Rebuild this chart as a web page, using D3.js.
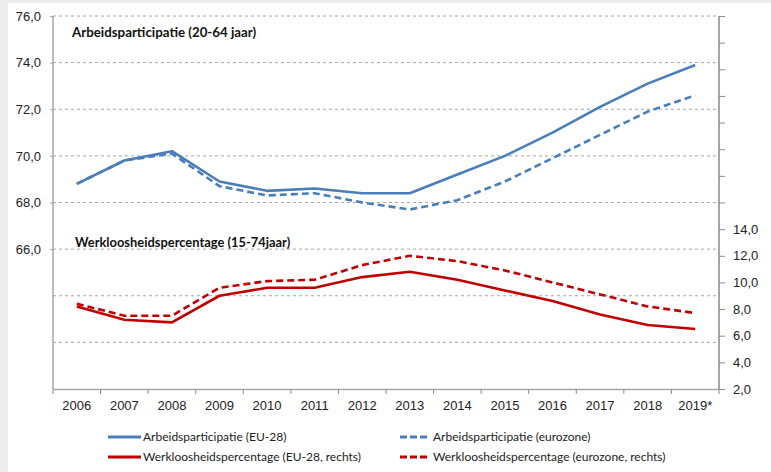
<!DOCTYPE html>
<html>
<head>
<meta charset="utf-8">
<script src="https://cdn.jsdelivr.net/npm/d3@7"></script>
<style>
  body { margin: 0; background: #ececec; }
  svg { display: block; font-family: Lato, "Open Sans", sans-serif; }
</style>
</head>
<body>
<div id="chart"></div>
<script>
// data
const years = ["2006", "2007", "2008", "2009", "2010", "2011", "2012", "2013", "2014", "2015", "2016", "2017", "2018", "2019*"];
const arbeidEU28 = [68.8, 69.8, 70.2, 68.9, 68.5, 68.6, 68.4, 68.4, 69.2, 70.0, 71.0, 72.1, 73.1, 73.9];
const arbeidEuro = [68.8, 69.8, 70.1, 68.7, 68.3, 68.4, 68.0, 67.7, 68.1, 68.9, 69.9, 70.9, 71.9, 72.6];
const werkEU28 = [8.2, 7.2, 7.0, 9.0, 9.6, 9.6, 10.4, 10.8, 10.2, 9.4, 8.6, 7.6, 6.8, 6.5];
const werkEuro = [8.4, 7.5, 7.5, 9.6, 10.1, 10.2, 11.3, 12.0, 11.6, 10.9, 10.0, 9.1, 8.2, 7.7];
const leftTicks = [66, 68, 70, 72, 74, 76];
const gridTicks = [62, 64, 66, 68, 70, 72, 74, 76];
const rightTicks = d3.range(2, 31, 2);
const rightLabelMax = 14;

const series = [
    {name: "Arbeidsparticipatie (EU-28)", values: arbeidEU28, axis: "left", color: "#4a7ebb", dash: null},
    {name: "Arbeidsparticipatie (eurozone)", values: arbeidEuro, axis: "left", color: "#4a7ebb", dash: "7,4"},
    {name: "Werkloosheidspercentage (EU-28, rechts)", values: werkEU28, axis: "right", color: "#c00000", dash: null},
    {name: "Werkloosheidspercentage (eurozone, rechts)", values: werkEuro, axis: "right", color: "#c00000", dash: "7,4"}
];

const W = 771, H = 472;
const margin = {top: 16, right: 52, bottom: 83, left: 53};
const width = W - margin.left - margin.right;
const height = H - margin.top - margin.bottom;

const svg = d3.select("#chart").append("svg")
    .attr("width", W)
    .attr("height", H);

// white panel, grey strip left and top
svg.append("rect").attr("x", 8).attr("y", 3).attr("width", W - 8).attr("height", H - 3).attr("fill", "#fff");

const g = svg.append("g").attr("transform", "translate(" + margin.left + "," + margin.top + ")");

const xScale = d3.scaleBand().domain(years).range([0, width]);
const yLeft = d3.scaleLinear().domain([60, 76]).range([height, 0]);
const yRight = d3.scaleLinear().domain([2, 30]).range([height, 0]);

const fmt = v => d3.format(".1f")(v).replace(".", ",");

// gridlines
g.append("g").attr("class", "grid")
    .selectAll("line")
    .data(gridTicks)
    .join("line")
    .attr("x1", 0).attr("x2", width)
    .attr("y1", d => yLeft(d)).attr("y2", d => yLeft(d))
    .attr("stroke", "#a6a6a6")
    .attr("stroke-width", 1)
    .attr("stroke-dasharray", "3,3");

// left axis
const leftAxisG = g.append("g").attr("class", "yAxisLeft")
    .call(d3.axisLeft(yLeft).tickValues(leftTicks).tickSize(6).tickFormat(fmt));
leftAxisG.select(".domain").attr("stroke", "#a6a6a6").attr("stroke-width", 1.5).attr("d", "M0," + height + "V0");
leftAxisG.selectAll(".tick line").attr("stroke", "#a6a6a6").attr("stroke-dasharray", "3,3");
leftAxisG.selectAll(".tick text").attr("x", -12).attr("font-size", 13).attr("fill", "#222");

// right axis
const rightAxisG = g.append("g").attr("class", "yAxisRight")
    .attr("transform", "translate(" + width + ",0)")
    .call(d3.axisRight(yRight).tickValues(rightTicks).tickSize(6)
        .tickFormat(d => d <= rightLabelMax ? fmt(d) : ""));
rightAxisG.select(".domain").attr("stroke", "#a6a6a6").attr("stroke-width", 2).attr("d", "M0," + height + "V0");
rightAxisG.selectAll(".tick line").attr("stroke", "#8c8c8c");
rightAxisG.selectAll(".tick text").attr("x", 14).attr("font-size", 13).attr("fill", "#222");

// x axis
const xAxisG = g.append("g").attr("class", "xAxisG")
    .attr("transform", "translate(0," + height + ")")
    .call(d3.axisBottom(xScale).tickSize(0).tickPadding(12));
xAxisG.select(".domain").attr("stroke", "#a6a6a6").attr("stroke-width", 1.5);
xAxisG.selectAll(".tick text").attr("font-size", 13).attr("fill", "#222");
// category separator ticks
g.append("g").attr("transform", "translate(0," + height + ")")
    .selectAll("line")
    .data(d3.range(years.length + 1))
    .join("line")
    .attr("x1", i => i * xScale.step()).attr("x2", i => i * xScale.step())
    .attr("y1", 0).attr("y2", 5)
    .attr("stroke", "#8c8c8c");

// lines
const lineFor = s => d3.line()
    .x((d, i) => xScale(years[i]) + xScale.bandwidth() / 2)
    .y(d => s.axis === "left" ? yLeft(d) : yRight(d));

g.selectAll(".series")
    .data(series)
    .join("path")
    .attr("class", "series")
    .attr("fill", "none")
    .attr("stroke", d => d.color)
    .attr("stroke-width", 2.6)
    .attr("stroke-dasharray", d => d.dash)
    .attr("stroke-linejoin", "round")
    .attr("d", d => lineFor(d)(d.values));

// panel titles
svg.append("text").attr("x", 72).attr("y", 37)
    .attr("font-size", 13.3).attr("font-weight", "bold").attr("fill", "#111")
    .text("Arbeidsparticipatie (20-64 jaar)");
svg.append("text").attr("x", 75).attr("y", 247)
    .attr("font-size", 12.9).attr("font-weight", "bold").attr("fill", "#111")
    .text("Werkloosheidspercentage (15-74jaar)");

// legend
const legendPos = [[108, 437], [400, 437], [108, 457], [400, 457]];
const legend = svg.append("g").attr("class", "legend")
    .selectAll("g")
    .data(series)
    .join("g")
    .attr("transform", (d, i) => "translate(" + legendPos[i][0] + "," + legendPos[i][1] + ")");
legend.append("line")
    .attr("x1", 0).attr("x2", d => d.dash ? 28 : 33)
    .attr("y1", 0).attr("y2", 0)
    .attr("stroke", d => d.color)
    .attr("stroke-width", 3)
    .attr("stroke-dasharray", d => d.dash ? "7,3" : null);
legend.append("text")
    .attr("x", d => d.dash ? 33 : 35)
    .attr("y", 0).attr("dy", "0.35em")
    .attr("font-size", 12).attr("fill", "#222")
    .text(d => d.name);
</script>
</body>
</html>
